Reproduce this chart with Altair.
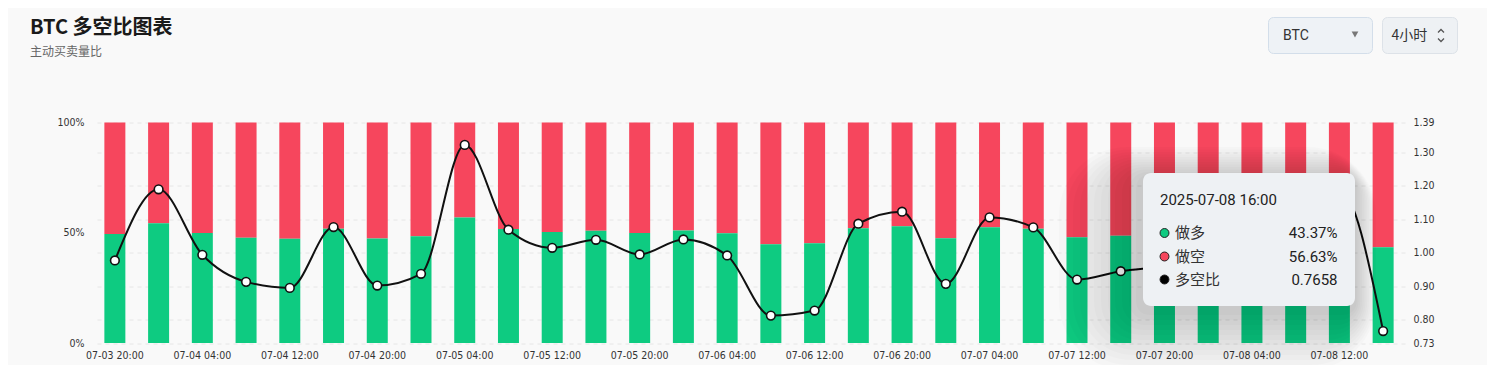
import altair as alt
import pandas as pd

# ---------------- data ----------------
times = [
    "07-03 20:00",
    "07-04 00:00", "07-04 04:00", "07-04 08:00", "07-04 12:00", "07-04 16:00", "07-04 20:00",
    "07-05 00:00", "07-05 04:00", "07-05 08:00", "07-05 12:00", "07-05 16:00", "07-05 20:00",
    "07-06 00:00", "07-06 04:00", "07-06 08:00", "07-06 12:00", "07-06 16:00", "07-06 20:00",
    "07-07 00:00", "07-07 04:00", "07-07 08:00", "07-07 12:00", "07-07 16:00", "07-07 20:00",
    "07-08 00:00", "07-08 04:00", "07-08 08:00", "07-08 12:00", "07-08 16:00",
]
long_pct = [49.42, 54.34, 49.85, 47.73, 47.23, 51.85, 47.42, 48.37, 56.95, 51.67,
            50.37, 50.96, 49.87, 50.98, 49.80, 44.81, 45.27, 52.08, 52.90, 47.56,
            52.52, 51.83, 47.92, 48.59, 48.98, 49.62, 50.74, 51.92, 54.34, 43.37]
short_pct = [50.58, 45.66, 50.15, 52.27, 52.77, 48.15, 52.58, 51.63, 43.05, 48.33,
             49.63, 49.04, 50.13, 49.02, 50.20, 55.19, 54.73, 47.92, 47.10, 52.44,
             47.48, 48.17, 52.08, 51.41, 51.02, 50.38, 49.26, 48.08, 45.66, 56.63]
ratio = [0.977, 1.190, 0.994, 0.913, 0.895, 1.077, 0.902, 0.937, 1.323, 1.069,
         1.015, 1.039, 0.995, 1.040, 0.992, 0.812, 0.827, 1.087, 1.123, 0.907,
         1.106, 1.076, 0.920, 0.945, 0.960, 0.985, 1.030, 1.080, 1.190, 0.7658]
pct_ticks = [0, 50, 100]
ratio_ticks = [0.73, 0.80, 0.90, 1.00, 1.10, 1.20, 1.30, 1.39]

title_text = "BTC 多空比图表"
subtitle_text = "主动买卖量比"
tip_time = "2025-07-08 16:00"
tip_labels = ["做多", "做空", "多空比"]
tip_values = ["43.37%", "56.63%", "0.7658"]
select_text = "BTC"
interval_text = "4小时"

GREEN = "#0ecb81"
RED = "#f6465d"
FONT_AX = "'DejaVu Sans Condensed', Roboto, sans-serif"
FONT_CJK = "Noto Sans CJK SC"

df = pd.DataFrame({"time": times, "long": long_pct, "short": short_pct, "ratio": ratio})
df["zero"] = 0
df["top"] = 100

W, H = 1312, 220.5
X0, Y0 = 93, 122.5  # plot origin in page coordinates

xenc = alt.X("time:N", sort=None, title=None,
             scale=alt.Scale(paddingInner=0.52, paddingOuter=0.26),
             axis=alt.Axis(values=times[::2], labelAngle=0, domain=False, ticks=False,
                           labelPadding=7, labelFontSize=10.5, labelColor="#333",
                           labelFont=FONT_AX, labelOverlap=False, grid=False))

ypct = alt.Scale(domain=[0, 100], nice=False, zero=True)
pct_axis = alt.Axis(values=pct_ticks, labelExpr="datum.value + '%'", grid=False,
                    domain=False, ticks=False, labelPadding=9, labelFontSize=10.5,
                    labelColor="#333", labelFont=FONT_AX, title=None)

base = alt.Chart(df)
green = base.mark_bar(color=GREEN).encode(
    x=xenc, y=alt.Y("zero:Q", scale=ypct, axis=pct_axis), y2="long:Q")
red = base.mark_bar(color=RED).encode(
    x=xenc, y=alt.Y("long:Q", scale=ypct, axis=pct_axis), y2="top:Q")
bars = alt.layer(red, green)

yrat = alt.Scale(domain=[0.73, 1.39], nice=False, zero=False)
rat_axis = alt.Axis(orient="right", values=ratio_ticks, format=".2f", grid=True,
                    gridDash=[4, 4], gridColor="#e6e6e6", gridWidth=1,
                    domain=False, ticks=False, labelPadding=8, labelFontSize=10.5,
                    labelColor="#333", labelFont=FONT_AX, title=None)
line = base.mark_line(color="#111", strokeWidth=2, interpolate="monotone").encode(
    x=xenc, y=alt.Y("ratio:Q", scale=yrat, axis=rat_axis))
pts = base.mark_point(shape="circle", filled=True, fill="white", stroke="#111",
                      strokeWidth=1.6, size=75, opacity=1).encode(
    x=xenc, y=alt.Y("ratio:Q", scale=yrat, axis=rat_axis))
ratio_layer = alt.layer(line, pts)

one = pd.DataFrame({"a": [0]})


def px(x):
    return x - X0


def py(y):
    return y - Y0


def text(s, x, y, size, color="#222", weight="normal", align="left", font=FONT_CJK):
    return alt.Chart(one).mark_text(text=s, fontSize=size, color=color, fontWeight=weight,
                                    align=align, baseline="middle", font=font).encode(
        x=alt.value(px(x)), y=alt.value(py(y)))


def rect(x1, y1, x2, y2, fill, stroke=None, radius=0, opacity=1.0, sw=1):
    kw = dict(fill=fill, cornerRadius=radius, opacity=opacity)
    if stroke:
        kw.update(stroke=stroke, strokeWidth=sw)
    return alt.Chart(one).mark_rect(**kw).encode(
        x=alt.value(px(x1)), x2=alt.value(px(x2)), y=alt.value(py(y1)), y2=alt.value(py(y2)))


def sym(x, y, shape, size, fill=None, stroke=None, sw=1.0):
    kw = dict(shape=shape, size=size, opacity=1)
    if fill:
        kw.update(filled=True, fill=fill)
    else:
        kw.update(filled=False)
    if stroke:
        kw.update(stroke=stroke, strokeWidth=sw)
    return alt.Chart(one).mark_point(**kw).encode(x=alt.value(px(x)), y=alt.value(py(y)))


deco = []
# header
deco.append(text(title_text, 30, 28, 20, "#1a1a1a", "bold"))
deco.append(text(subtitle_text, 30, 52, 12, "#666"))
# selector boxes
deco.append(rect(1268.5, 17.5, 1372.5, 53.5, "#eef2f6", "#d3deea", 5))
deco.append(text(select_text, 1283, 35.5, 14, "#333", font="Roboto"))
deco.append(sym(1355, 34.5, "triangle-down", 45, fill="#777"))
deco.append(rect(1382.5, 17.5, 1457.5, 53.5, "#eef1f4", "#dde2e8", 5))
deco.append(text(interval_text, 1391.5, 35.5, 14, "#333"))
deco.append(sym(1441, 31, "M-1,0.5L0,-0.5L1,0.5", 36, stroke="#555", sw=1.3))
deco.append(sym(1441, 40, "M-1,-0.5L0,0.5L1,-0.5", 36, stroke="#555", sw=1.3))

# tooltip shadow (offset down-left)
for i in range(1, 13):
    e = 5 * i
    deco.append(rect(1143 - 1.4 * e, 173 - 0.5 * e + 4, 1355 + 0.35 * e, 306 + 1.0 * e + 4,
                     "#000", None, 8 + e, 0.016))
# tooltip box
deco.append(rect(1143, 173, 1355, 306, "#eef1f4", None, 8))
deco.append(text(tip_time, 1160, 200, 15, "#222", font="Roboto"))
row_y = [233, 256.5, 279.5]
dot_fill = [GREEN, RED, "#000"]
for lab, val, yy, fc in zip(tip_labels, tip_values, row_y, dot_fill):
    deco.append(sym(1164.5, yy, "circle", 80, fill=fc, stroke="#222", sw=1))
    deco.append(text(lab, 1175, yy, 15, "#333"))
    deco.append(text(val, 1337.5, yy, 15, "#222", align="right", font="Roboto"))

chart = alt.layer(bars, ratio_layer, *deco).resolve_scale(y="independent").properties(
    width=W, height=H,
    autosize=alt.AutoSizeParams(type="none"),
    padding={"left": 85, "top": 114.5, "right": 82, "bottom": 22},
    background="#f9f9f9",
).configure_view(stroke=None)

chart.save("out.html", embed_options={"renderer": "svg", "actions": False})
